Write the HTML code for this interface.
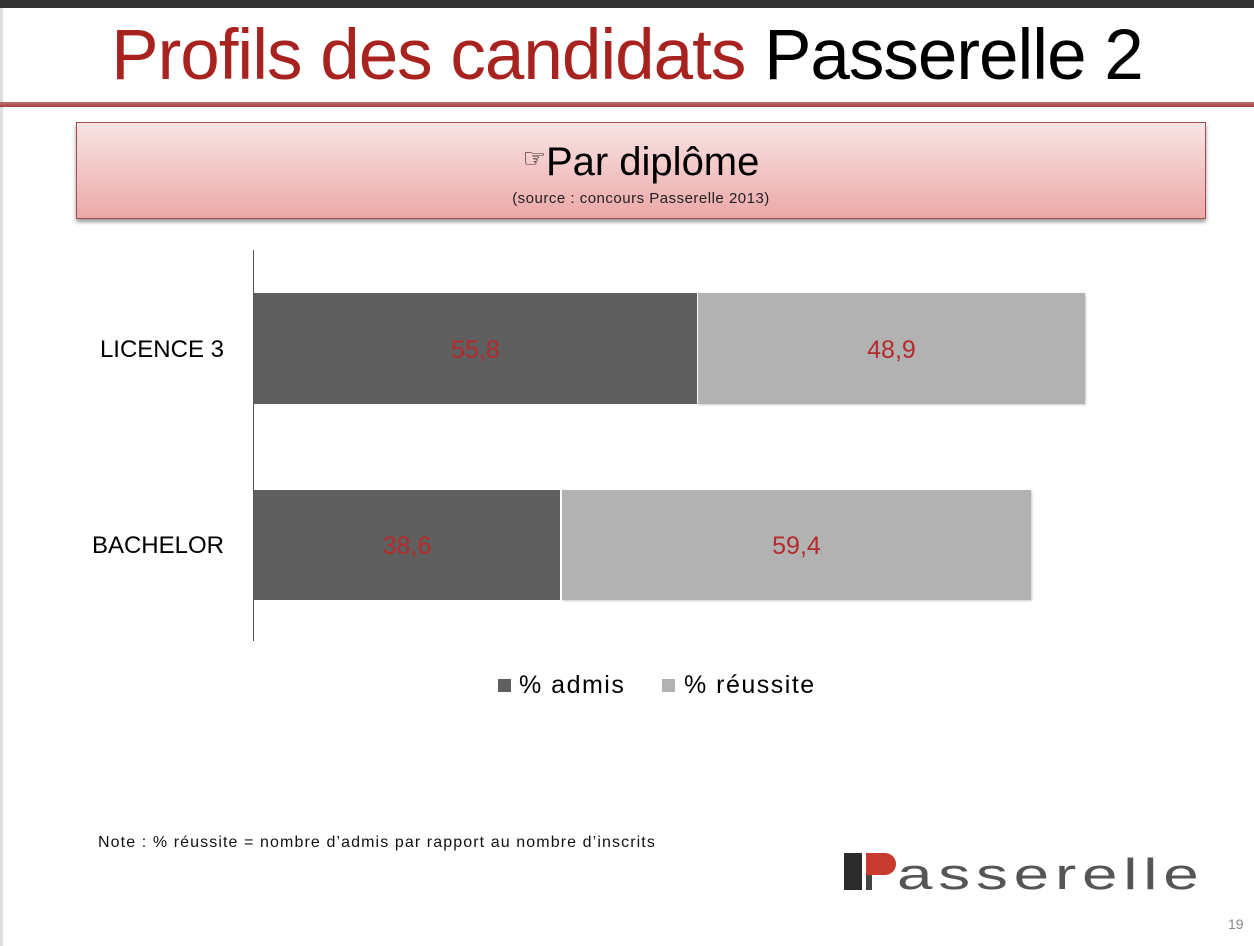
<!DOCTYPE html>
<html><head><meta charset="utf-8"><style>
body{margin:0;width:1254px;height:946px;background:#fff;position:relative;overflow:hidden;font-family:"Liberation Sans",sans-serif}
.a{position:absolute}
</style></head><body>
<div class="a" style="left:0;top:0;width:1254px;height:8px;background:#333"></div>
<div class="a" style="left:0;top:8px;width:3px;height:938px;background:#ddd"></div>
<div class="a" style="left:0;top:18px;width:1254px;text-align:center;font-size:71px;line-height:76px;letter-spacing:-1px;color:#000"><span style="color:#a8231f">Profils des candidats</span> Passerelle 2</div>
<div class="a" style="left:0;top:102px;width:1254px;height:5px;background:linear-gradient(#c37070,#a04040)"></div>
<div class="a" style="left:76px;top:122px;width:1128px;height:95px;border:1px solid #a05050;background:linear-gradient(#fae4e4,#eca8a8);box-shadow:0 3px 4px #999"></div>
<div class="a" style="left:76px;top:136px;width:1130px;text-align:center;font-size:40px;line-height:44px;color:#000"><span style="font-size:26px;vertical-align:8px">☞</span>Par diplôme</div>
<div class="a" style="left:76px;top:190px;width:1130px;text-align:center;font-size:15px;letter-spacing:0.5px;color:#222">(source : concours Passerelle 2013)</div>
<div class="a" style="left:253px;top:250px;width:1px;height:391px;background:#555"></div>
<div class="a" style="left:254px;top:293px;width:443px;height:111px;background:#5f5f5f"></div>
<div class="a" style="left:698px;top:293px;width:387px;height:111px;background:#b2b2b2;box-shadow:1px 1px 2px #ccc"></div>
<div class="a" style="left:254px;top:490px;width:306px;height:110px;background:#5f5f5f"></div>
<div class="a" style="left:562px;top:490px;width:469px;height:110px;background:#b2b2b2;box-shadow:1px 1px 2px #ccc"></div>
<div class="a" style="left:254px;top:336px;width:443px;text-align:center;font-size:25px;color:#b52a2a">55,8</div>
<div class="a" style="left:698px;top:336px;width:387px;text-align:center;font-size:25px;color:#b52a2a">48,9</div>
<div class="a" style="left:254px;top:532px;width:306px;text-align:center;font-size:25px;color:#b52a2a">38,6</div>
<div class="a" style="left:562px;top:532px;width:469px;text-align:center;font-size:25px;color:#b52a2a">59,4</div>
<div class="a" style="left:20px;top:336px;width:204px;text-align:right;font-size:24px;color:#000">LICENCE 3</div>
<div class="a" style="left:20px;top:532px;width:204px;text-align:right;font-size:24px;color:#000">BACHELOR</div>
<div class="a" style="left:498px;top:679px;width:13px;height:13px;background:#5f5f5f"></div>
<div class="a" style="left:519px;top:671px;font-size:25px;letter-spacing:1.5px;color:#000">% admis</div>
<div class="a" style="left:662px;top:679px;width:13px;height:13px;background:#b2b2b2"></div>
<div class="a" style="left:684px;top:671px;font-size:25px;letter-spacing:1.5px;color:#000">% réussite</div>
<div class="a" style="left:98px;top:834px;font-size:16px;letter-spacing:1.1px;color:#111">Note : % réussite = nombre d’admis par rapport au nombre d’inscrits</div>
<div class="a" style="left:844px;top:853px;width:18px;height:37px;background:#2b2b2b"></div>
<div class="a" style="left:866px;top:853px;width:30px;height:22px;background:#c83a2e;border-radius:0 11px 11px 0"></div>
<div class="a" style="left:866px;top:875px;width:6px;height:15px;background:#444"></div>
<div class="a" style="left:897px;top:850px;font-size:44px;color:#555;letter-spacing:4px;transform:scaleX(1.45);transform-origin:left">asserelle</div>
<div class="a" style="left:1228px;top:916px;font-size:14px;color:#888">19</div>
</body></html>
